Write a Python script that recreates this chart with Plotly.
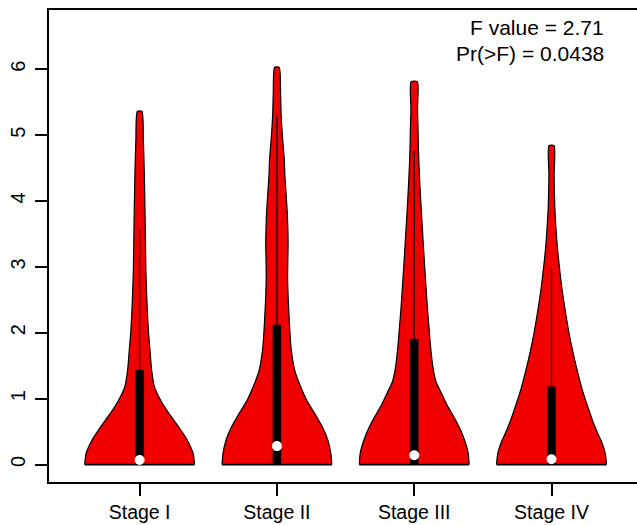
import plotly.graph_objects as go

# ---- data ----
stages = ["Stage I", "Stage II", "Stage III", "Stage IV"]
positions = [1, 2, 3, 4]

# violin density profiles: value levels and relative density (arbitrary units)
s1_y = [0.00, 0.17, 0.37, 0.57, 0.78, 0.98, 1.18, 1.43, 1.74, 2.04, 2.40, 2.90, 3.40, 3.90, 4.40, 4.95, 5.36]
s1_d = [54.7, 53.3, 47.5, 39.0, 29.0, 20.8, 14.8, 12.0, 10.3, 8.7, 7.5, 6.3, 5.8, 5.3, 4.7, 3.7, 2.3]

s2_y = [0.00, 0.17, 0.37, 0.57, 0.78, 0.98, 1.18, 1.43, 1.74, 2.04, 2.33, 2.60, 2.84, 3.10, 3.35, 3.60, 3.86, 4.10, 4.40, 4.62, 5.00, 5.30, 5.63, 6.03]
s2_d = [55.5, 54.5, 51.5, 46.0, 38.0, 30.0, 24.0, 18.0, 14.5, 13.0, 12.0, 11.2, 10.8, 11.0, 11.3, 11.0, 10.3, 9.3, 8.0, 7.5, 5.5, 4.3, 3.7, 2.3]

s3_y = [0.00, 0.18, 0.43, 0.60, 0.74, 0.90, 1.09, 1.25, 1.45, 1.65, 1.85, 2.10, 2.36, 2.70, 3.12, 3.50, 3.88, 4.30, 4.74, 5.10, 5.40, 5.81]
s3_d = [55.0, 54.0, 49.0, 44.0, 39.0, 33.0, 27.0, 22.0, 19.0, 17.3, 16.0, 14.7, 13.3, 11.8, 10.0, 8.5, 7.0, 5.5, 4.3, 3.8, 3.3, 3.2]

s4_y = [0.00, 0.10, 0.20, 0.33, 0.46, 0.65, 0.86, 1.10, 1.37, 1.60, 1.88, 2.13, 2.38, 2.63, 2.89, 3.15, 3.40, 3.65, 3.91, 4.20, 4.41, 4.84]
s4_d = [55.0, 54.5, 53.3, 50.5, 46.7, 41.5, 36.7, 31.5, 26.7, 23.0, 19.0, 16.0, 13.3, 10.8, 8.7, 6.8, 5.3, 4.2, 3.3, 2.8, 2.6, 2.6]

q1 = [0.00, 0.00, 0.00, 0.00]
medians = [0.07, 0.28, 0.14, 0.08]
q3 = [1.43, 2.12, 1.90, 1.18]
whisker_hi = [3.57, 5.29, 4.76, 2.97]

f_text = "F value = 2.71"
p_text = "Pr(>F) = 0.0438"

profiles = [(s1_y, s1_d), (s2_y, s2_d), (s3_y, s3_d), (s4_y, s4_d)]

# ---- style ----
FILL = "#F00000"
HALF_MAX = 0.4     # half-width of the widest part of each violin (x units)
BOX_HALF = 0.029   # half-width of the box (x units)
FONT = "Liberation Sans, Arial, Helvetica, sans-serif"

fig = go.Figure()

for pos, (ys, ds), lo, med, hi, wh in zip(positions, profiles, q1, medians, q3, whisker_hi):
    m = max(ds)
    hw = [HALF_MAX * d / m for d in ds]
    # outline: right side bottom->top, left side top->bottom
    xs = [pos + w for w in hw] + [pos - w for w in reversed(hw)]
    yy = list(ys) + list(reversed(ys))
    fig.add_trace(go.Scatter(
        x=xs, y=yy, mode="lines", fill="toself", fillcolor=FILL,
        line=dict(color="black", width=1.2, shape="spline", smoothing=0.6),
        hoverinfo="skip", showlegend=False))
    # flat bottom edge
    fig.add_trace(go.Scatter(
        x=[pos - hw[0], pos + hw[0]], y=[ys[0], ys[0]], mode="lines",
        line=dict(color="black", width=1.8), hoverinfo="skip", showlegend=False))
    # whisker
    fig.add_trace(go.Scatter(
        x=[pos, pos], y=[hi, wh], mode="lines",
        line=dict(color="black", width=1.2), hoverinfo="skip", showlegend=False))
    # box
    fig.add_trace(go.Scatter(
        x=[pos - BOX_HALF, pos + BOX_HALF, pos + BOX_HALF, pos - BOX_HALF, pos - BOX_HALF],
        y=[lo, lo, hi, hi, lo], mode="lines", fill="toself", fillcolor="black",
        line=dict(color="black", width=0.5), hoverinfo="skip", showlegend=False))
    # median
    fig.add_trace(go.Scatter(
        x=[pos], y=[med], mode="markers",
        marker=dict(color="white", size=10, line=dict(width=0)),
        hoverinfo="skip", showlegend=False))

fig.add_annotation(text=f_text, xref="paper", yref="paper", x=0.9473, y=0.9633,
                   xanchor="right", yanchor="middle", showarrow=False,
                   font=dict(family=FONT, size=21, color="black"))
fig.add_annotation(text=p_text, xref="paper", yref="paper", x=0.9473, y=0.9068,
                   xanchor="right", yanchor="middle", showarrow=False,
                   font=dict(family=FONT, size=21, color="black"))

fig.update_layout(
    width=637, height=525,
    margin=dict(l=49, r=0, t=10, b=43, autoexpand=False),
    plot_bgcolor="white", paper_bgcolor="white",
    font=dict(family=FONT, size=19.5, color="black"),
    xaxis=dict(range=[0.34, 4.6226], tickvals=positions, ticktext=stages,
               showgrid=False, zeroline=False, showline=True, mirror=True,
               linecolor="black", linewidth=1.8, ticks="outside", ticklen=12,
               tickwidth=1.5, tickcolor="black", ticklabelstandoff=0),
    yaxis=dict(range=[-0.265, 6.9], tickvals=[0, 1, 2, 3, 4, 5, 6],
               showgrid=False, zeroline=False, showline=True, mirror=False,
               linecolor="black", linewidth=1.8, ticks="outside", ticklen=12,
               tickwidth=1.5, tickcolor="black", tickangle=-90,
               tickfont=dict(size=20), ticklabelstandoff=2),
)

fig.write_html("out.html", config={"displayModeBar": False},
               post_script="document.body.style.margin='0px';")
